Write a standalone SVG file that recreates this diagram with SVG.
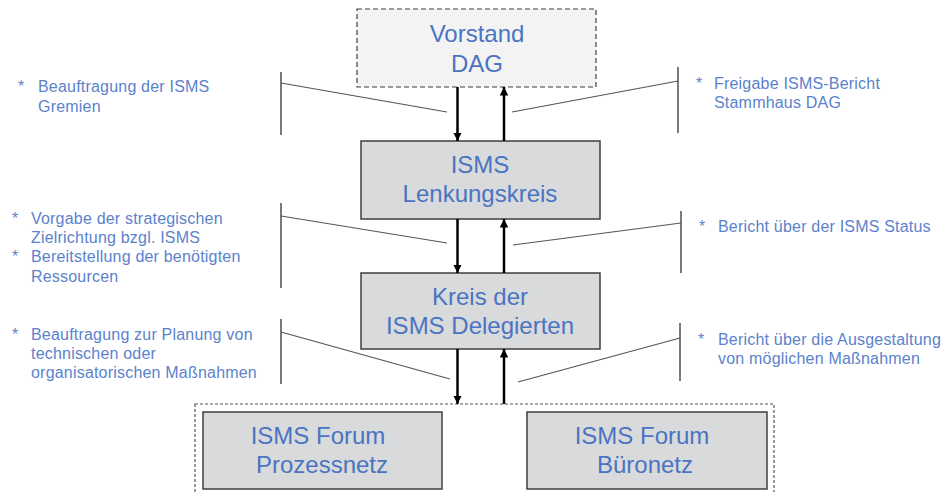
<svg xmlns="http://www.w3.org/2000/svg" width="941" height="492" viewBox="0 0 941 492">
<defs>
<marker id="ah" viewBox="0 0 10 10" refX="10" refY="5" markerWidth="3.4" markerHeight="3.4" orient="auto" markerUnits="strokeWidth">
<path d="M0,0 L10,5 L0,10 z" fill="#000"/>
</marker>
</defs>
<style>
.box{fill:#d9dadb;stroke:#3f3f3f;stroke-width:1.5}
.dash{fill:#f3f3f3;stroke:#3f3f3f;stroke-width:1.2;stroke-dasharray:5,3}
.grp{fill:none;stroke:#555;stroke-width:1.2;stroke-dasharray:3,2}
.h{font-family:"Liberation Sans",Arial,sans-serif;font-size:24px;fill:#4a74c2;text-anchor:middle}
.l{font-family:"Liberation Sans",Arial,sans-serif;font-size:16px;fill:#5b82cc;letter-spacing:0.2px}
.arr{stroke:#000;stroke-width:2.5;fill:none;marker-end:url(#ah)}
.br{stroke:#222;stroke-width:1.2;fill:none}
.sl{stroke:#555;stroke-width:1.2;fill:none}
</style>
<rect width="941" height="492" fill="#fff"/>
<g id="forum-group"><rect class="grp" x="195" y="404" width="579" height="100"/></g>
<g id="vorstand"><rect class="dash" x="357" y="9" width="239" height="78"/>
<text class="h" x="477" y="42">Vorstand</text><text class="h" x="477" y="72">DAG</text></g>
<g id="lenkungskreis"><rect class="box" x="361" y="141" width="239" height="78"/>
<text class="h" x="480" y="173">ISMS</text><text class="h" x="480" y="202">Lenkungskreis</text></g>
<g id="delegierte"><rect class="box" x="361" y="273" width="239" height="76"/>
<text class="h" x="480" y="305">Kreis der</text><text class="h" x="480" y="334">ISMS Delegierten</text></g>
<g id="forum-prozessnetz"><rect class="box" x="203" y="412" width="239" height="77"/>
<text class="h" x="318" y="444">ISMS Forum</text><text class="h" x="322" y="473">Prozessnetz</text></g>
<g id="forum-bueronetz"><rect class="box" x="527" y="412" width="240" height="77"/>
<text class="h" x="642" y="444">ISMS Forum</text><text class="h" x="645" y="473">Büronetz</text></g>
<g id="connectors">
<line class="arr" x1="457.5" y1="87" x2="457.5" y2="141"/>
<line class="arr" x1="504" y1="141" x2="504" y2="87"/>
<line class="arr" x1="457.5" y1="219" x2="457.5" y2="273"/>
<line class="arr" x1="504" y1="273" x2="504" y2="219"/>
<line class="arr" x1="457.5" y1="349" x2="457.5" y2="404"/>
<line class="arr" x1="504" y1="404" x2="504" y2="349"/>
<line class="br" x1="281" y1="72" x2="281" y2="135"/>
<line class="sl" x1="281" y1="83" x2="447" y2="112"/>
<line class="br" x1="678" y1="67" x2="678" y2="133"/>
<line class="sl" x1="678" y1="81" x2="512" y2="112"/>
<line class="br" x1="281" y1="203" x2="281" y2="288"/>
<line class="sl" x1="281" y1="216" x2="447" y2="243"/>
<line class="br" x1="681" y1="211" x2="681" y2="273"/>
<line class="sl" x1="681" y1="223" x2="513" y2="245"/>
<line class="br" x1="281" y1="319" x2="281" y2="384"/>
<line class="sl" x1="281" y1="332" x2="450" y2="379"/>
<line class="br" x1="680" y1="323" x2="680" y2="381"/>
<line class="sl" x1="680" y1="338" x2="518" y2="382"/>
</g>
<g id="labels">
<text class="l" x="18" y="92">*</text>
<text class="l" x="38" y="92">Beauftragung der ISMS</text>
<text class="l" x="38" y="111.5">Gremien</text>
<text class="l" x="696" y="89">*</text>
<text class="l" x="714" y="89">Freigabe ISMS-Bericht</text>
<text class="l" x="714" y="107.5">Stammhaus DAG</text>
<text class="l" x="12" y="224">*</text>
<text class="l" x="31" y="224">Vorgabe der strategischen</text>
<text class="l" x="31" y="243">Zielrichtung bzgl. ISMS</text>
<text class="l" x="12" y="262">*</text>
<text class="l" x="31" y="262">Bereitstellung der benötigten</text>
<text class="l" x="31" y="281.5">Ressourcen</text>
<text class="l" x="699" y="231.5">*</text>
<text class="l" x="718" y="231.5">Bericht über der ISMS Status</text>
<text class="l" x="12" y="340">*</text>
<text class="l" x="31" y="340">Beauftragung zur Planung von</text>
<text class="l" x="31" y="359">technischen oder</text>
<text class="l" x="31" y="378">organisatorischen Maßnahmen</text>
<text class="l" x="698" y="345">*</text>
<text class="l" x="718" y="345">Bericht über die Ausgestaltung</text>
<text class="l" x="718" y="364">von möglichen Maßnahmen</text>
</g>
</svg>
